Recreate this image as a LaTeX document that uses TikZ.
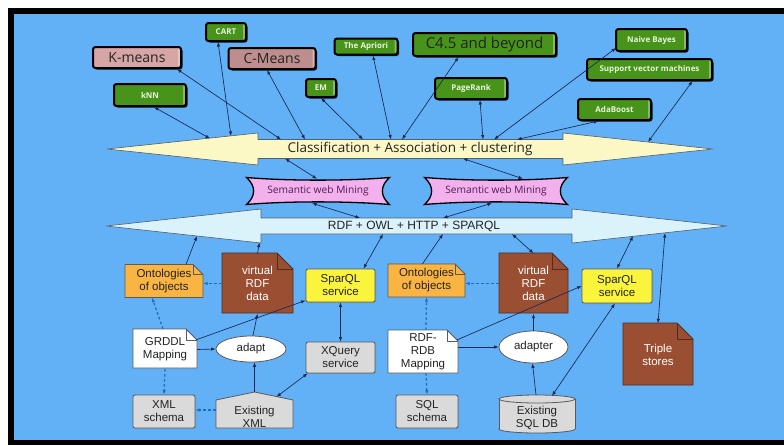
\documentclass[tikz,border=0pt]{standalone}
\usepackage{fontspec}
\setmainfont{Liberation Sans}
\newfontfamily\osans{Open Sans}
\usetikzlibrary{shapes.geometric,shadows,calc,arrows.meta}

\definecolor{bgblue}{RGB}{98,176,245}
\definecolor{algogreen}{RGB}{72,148,26}
\definecolor{algotext}{RGB}{232,244,220}
\definecolor{kpink}{RGB}{214,166,166}
\definecolor{cmauve}{RGB}{190,142,142}
\definecolor{navy}{RGB}{24,40,80}
\definecolor{dashblue}{RGB}{28,110,190}
\definecolor{yarrow}{RGB}{251,248,198}
\definecolor{barrow}{RGB}{218,243,251}
\definecolor{arrowedge}{RGB}{80,95,105}
\definecolor{swmpink}{RGB}{242,176,236}
\definecolor{swmtext}{RGB}{80,30,90}
\definecolor{ontorange}{RGB}{249,180,66}
\definecolor{rdfbrown}{RGB}{155,79,50}
\definecolor{brownedge}{RGB}{80,45,30}
\definecolor{spqyellow}{RGB}{250,244,60}
\definecolor{lgray}{RGB}{218,218,218}
\definecolor{edgegray}{RGB}{90,90,90}
\definecolor{txt}{RGB}{35,35,35}

% document shape with a folded top-right corner:
% centre x, centre y, width, height, fold, fill, edge colour
\newcommand\docshape[7]{%
  \filldraw[fill=#6, draw=#7, line width=0.8pt, line join=round]
    ({#1-#3/2},{#2-#4/2}) -- ({#1+#3/2-#5},{#2-#4/2}) -- ({#1+#3/2},{#2-#4/2+#5})
    -- ({#1+#3/2},{#2+#4/2}) -- ({#1-#3/2},{#2+#4/2}) -- cycle;
  \draw[draw=#7, line width=0.8pt, line join=round]
    ({#1+#3/2-#5},{#2-#4/2}) -- ({#1+#3/2-#5},{#2-#4/2+#5}) -- ({#1+#3/2},{#2-#4/2+#5});
}
% banner with concave edges, 143 x 27
\newcommand\swmbanner[2]{%
  \filldraw[fill=swmpink, draw=black, line width=1.3pt, line join=miter]
    ({#1-71.5},{#2-13.5}) .. controls ({#1-30},{#2-10}) and ({#1+30},{#2-10}) .. ({#1+71.5},{#2-13.5})
    .. controls ({#1+62},{#2-5}) and ({#1+62},{#2+5}) .. ({#1+71.5},{#2+13.5})
    .. controls ({#1+30},{#2+10}) and ({#1-30},{#2+10}) .. ({#1-71.5},{#2+13.5})
    .. controls ({#1-62},{#2+5}) and ({#1-62},{#2-5}) .. ({#1-71.5},{#2-13.5}) -- cycle;
}

\begin{document}
\begin{tikzpicture}[x=1pt,y=-1pt,
  algo/.style={rectangle, rounded corners=2.5pt, draw=black, line width=2pt,
    fill=algogreen, text=algotext, inner sep=0pt,
    font=\osans\bfseries\fontsize{8}{9}\selectfont,
    drop shadow={shadow xshift=1.5pt,shadow yshift=-1.5pt,opacity=.85,fill=black},
    path picture={\fill[white,opacity=.35]
      ([xshift=-3pt]path picture bounding box.north east) rectangle (path picture bounding box.south east);}},
  bigalgo/.style={algo, text=txt, font=\osans\fontsize{15}{17}\selectfont},
  kbox/.style={algo, fill=kpink, text=txt, font=\osans\fontsize{14}{16}\selectfont},
  box/.style={rectangle, rounded corners=2pt, draw=edgegray, line width=0.8pt, text=txt,
    font=\fontsize{11.5}{13}\selectfont, align=center, inner sep=1pt,
    drop shadow={shadow xshift=1pt,shadow yshift=-1pt,opacity=.35}},
  doctext/.style={rectangle, inner sep=1pt, text=txt, align=center,
    font=\fontsize{11.5}{13}\selectfont},
  oval/.style={ellipse, draw=edgegray, line width=0.8pt, fill=white, text=txt,
    font=\fontsize{11.5}{13}\selectfont, inner sep=0pt},
  tip/.tip={Latex[length=4.5pt,width=3.4pt]},
  conn/.style={draw=navy, line width=0.65pt, -tip},
  bconn/.style={draw=navy, line width=0.65pt, tip-tip},
  dconn/.style={draw=dashblue, line width=1.3pt, dash pattern=on 2.5pt off 2.5pt, -tip},
]
\useasboundingbox (0,0) rectangle (784,445);
% frame and background
\fill[white] (0,0) rectangle (784,445);
\fill[black] (8,8) rectangle (784,445);
\fill[bgblue] (14,14) rectangle (784,440);

% two wide double arrows
\filldraw[fill=yarrow, draw=arrowedge, line width=0.6pt, line join=round]
  (107,149) -- (258,133) -- (258,139.5) -- (563,139.5) -- (563,133) -- (713,149)
  -- (563,165) -- (563,158.5) -- (258,158.5) -- (258,165) -- cycle;
\node[font=\osans\fontsize{13.5}{15}\selectfont, text=txt] (cls) at (410,149)
  {Classification + Association + clustering};
\filldraw[fill=barrow, draw=arrowedge, line width=0.6pt, line join=round]
  (106,226) -- (261,209) -- (261,218) -- (572,218) -- (572,209) -- (727,226)
  -- (572,243) -- (572,234) -- (261,234) -- (261,243) -- cycle;
\node[font=\fontsize{12}{14}\selectfont, text=txt] (rdf) at (414,226)
  {RDF + OWL + HTTP + SPARQL};

% semantic web mining banners
\swmbanner{318}{191}
\node[font=\osans\fontsize{10.2}{12}\selectfont, text=swmtext, minimum width=143pt,
  minimum height=27pt, inner sep=0pt] (swmL) at (318,191) {Semantic web Mining};
\swmbanner{496}{191}
\node[font=\osans\fontsize{10.2}{12}\selectfont, text=swmtext, minimum width=143pt,
  minimum height=27pt, inner sep=0pt] (swmR) at (496,191) {Semantic web Mining};

% algorithm boxes
\node[algo, minimum width=40pt, minimum height=18pt] (cart) at (226,32) {CART};
\node[kbox, minimum width=88pt, minimum height=21pt] (kmeans) at (137,57.5) {K-means};
\node[kbox, fill=cmauve, minimum width=87pt, minimum height=21pt] (cmeans) at (272,58.5) {C-Means};
\node[algo, minimum width=72pt, minimum height=22pt] (knn) at (150,95) {kNN\hspace{24pt}};
\node[algo, minimum width=30pt, minimum height=18pt] (em) at (321,88) {EM};
\node[algo, minimum width=63pt, minimum height=16pt] (apriori) at (366,46.5) {The Apriori};
\node[bigalgo, minimum width=143pt, minimum height=23pt] (c45) at (484.5,44.5) {C4.5 and beyond};
\node[algo, minimum width=72pt, minimum height=21pt] (pagerank) at (471,88.5) {PageRank};
\node[algo, minimum width=71pt, minimum height=22pt] (bayes) at (651.5,40) {Naive Bayes};
\node[algo, minimum width=125pt, minimum height=21pt] (svm) at (649.5,69.5) {Support vector machines};
\node[algo, minimum width=73pt, minimum height=21pt] (ada) at (614.5,109.5) {AdaBoost};

% points on the wide arrows
\coordinate (yknn) at (210,138.5);
\coordinate (ycart) at (231,136);
\coordinate (ykm) at (281,139.5);
\coordinate (ycm) at (305,139.5);
\coordinate (yem) at (363,139.5);
\coordinate (yap) at (391,139.5);
\coordinate (yc45) at (402,139.5);
\coordinate (ypr) at (483,139.5);
\coordinate (ynb) at (494,139.5);
\coordinate (yada) at (517,139.5);
\coordinate (ysvm) at (648,142);
\coordinate (ysl) at (285,158.5);
\coordinate (ysr) at (463,158.5);
\coordinate (bsl) at (360,218);
\coordinate (bsr) at (443,218);
\coordinate (bont1) at (197,236);
\coordinate (bvr1) at (259.5,242.5);
\coordinate (bsp1) at (383,234);
\coordinate (bont2) at (443,234);
\coordinate (bvr2) at (512,234);
\coordinate (bsp2) at (633,236);
\coordinate (btr) at (665,233);

% left column of data sources
\docshape{164}{281}{78}{33}{10}{ontorange}{edgegray}
\node[doctext, minimum width=78pt, minimum height=33pt] (ontL) at (164,281) {Ontologies\\of objects};
\docshape{257.5}{283}{71}{60}{16}{rdfbrown}{brownedge}
\node[doctext, text=white, minimum width=71pt, minimum height=60pt] (vrdfL) at (257.5,283.5) {virtual\\RDF\\data};
\node[box, fill=spqyellow, minimum width=69pt, minimum height=33pt] (spqL) at (340.5,285.5) {SparQL\\service};
\docshape{165}{348.5}{64}{39}{11}{white}{edgegray}
\node[doctext, minimum width=64pt, minimum height=39pt] (grddl) at (165,349.5) {GRDDL\\Mapping};
\node[oval, minimum width=70pt, minimum height=26pt] (adapt) at (251,349) {adapt};
\node[box, fill=lgray, minimum width=69pt, minimum height=31pt] (xquery) at (340.5,357.5) {XQuery\\service};
\node[box, fill=lgray, minimum width=62pt, minimum height=33pt] (xmls) at (164,411.5) {XML\\schema};
\filldraw[fill=lgray, draw=edgegray, line width=0.8pt, line join=round]
  (216,428) -- (216,400) -- (254.5,392) -- (293,400) -- (293,428) -- cycle;
\node[rectangle, inner sep=0pt, minimum width=77pt, minimum height=36pt] (exml) at (254.5,410) {};
\node[doctext] (exmltxt) at (254.5,416.5) {Existing\\XML};

% right column of data sources
\docshape{426.5}{280.5}{77}{33}{10}{ontorange}{edgegray}
\node[doctext, minimum width=77pt, minimum height=33pt] (ontR) at (426.5,280.5) {Ontologies\\of objects};
\docshape{533.5}{283}{69}{60}{16}{rdfbrown}{brownedge}
\node[doctext, text=white, minimum width=69pt, minimum height=60pt] (vrdfR) at (533.5,283.5) {virtual\\RDF\\data};
\node[box, fill=spqyellow, minimum width=70pt, minimum height=34pt] (spqR) at (617,286) {SparQL\\service};
\docshape{423}{351.5}{70}{43}{11}{white}{edgegray}
\node[doctext, minimum width=70pt, minimum height=43pt] (rdb) at (423,351.5) {RDF-\\RDB\\Mapping};
\node[oval, minimum width=69pt, minimum height=32pt] (adapter) at (533.5,347) {adapter};
\node[box, fill=lgray, minimum width=62pt, minimum height=33pt] (sqls) at (427,411.5) {SQL\\schema};
% database cylinder
\filldraw[fill=lgray, draw=edgegray, line width=0.8pt] (537,429) ellipse [x radius=38, y radius=4];
\fill[lgray] (499,399) rectangle (575,429);
\draw[edgegray, line width=0.8pt] (499,399) -- (499,429) (575,399) -- (575,429);
\filldraw[fill=lgray, draw=edgegray, line width=0.8pt] (537,399) ellipse [x radius=38, y radius=4];
\node[rectangle, inner sep=0pt, minimum width=76pt, minimum height=38pt] (sqldb) at (537,414) {};
\node[doctext] (sqldbtxt) at (537,417.5) {Existing\\SQL DB};
\docshape{658}{354}{70}{62}{16}{rdfbrown}{brownedge}
\node[doctext, text=white, minimum width=70pt, minimum height=62pt] (triple) at (658,354.5) {Triple\\stores};

% algorithms to the classification arrow
\draw[bconn] ($(knn.south)+(4,0)$) -- (yknn);
\draw[bconn] ($(cart.south)+(-8,0)$) -- (ycart);
\draw[bconn] ($(kmeans.south east)+(-5,0)$) -- (ykm);
\draw[bconn] ($(cmeans.south)+(-5,0)$) -- (ycm);
\draw[bconn] (em.south) -- (yem);
\draw[bconn] ($(apriori.south)+(7,0)$) -- (yap);
\draw[bconn] ($(c45.south)+(-26,0)$) -- (yc45);
\draw[bconn] ($(pagerank.south)+(9,0)$) -- (ypr);
\draw[bconn] ($(bayes.south west)+(1,-4)$) -- (ynb);
\draw[bconn] ($(ada.south)+(-16,0)$) -- (yada);
\draw[bconn] ($(svm.south)+(43,0)$) -- (ysvm);

% mining banners between the two arrows
\draw[bconn] (ysl) -- ($(swmL.north)+(-1,1.5)$);
\draw[bconn] (ysr) -- ($(swmR.north)+(27,1.5)$);
\draw[bconn] ($(swmL.south)+(-6,-1.5)$) -- (bsl);
\draw[bconn] ($(swmR.south)+(-4,-1.5)$) -- (bsr);

% data sources up to the web stack arrow
\draw[conn] ($(ontL.north)+(22,0)$) -- (bont1);
\draw[conn] (vrdfL.north) -- (bvr1);
\draw[bconn] ($(spqL.north)+(23,0)$) -- (bsp1);
\draw[conn] ($(ontR.north)+(-4,0)$) -- (bont2);
\draw[bconn] (vrdfR.north) -- (bvr2);
\draw[bconn] (spqR.north) -- (bsp2);
\draw[bconn] (triple.north) -- (btr);

% left column links
\draw[dconn] (vrdfL.west) -- (vrdfL.west -| ontL.east);
\draw[dconn] ($(grddl.north)+(-2,-1)$) -- ($(ontL.south)+(-12,0)$);
\draw[dconn] (grddl.south) -- (xmls.north);
\draw[dconn] (exml.west) -- (exml.west -| xmls.east);
\draw[conn] (grddl.east) -- (adapt.west);
\draw[conn] ($(grddl.north east)+(-1,10)$) -- ($(spqL.south west)+(0,-2)$);
\draw[conn] ($(adapt.north)+(2,0)$) -- (vrdfL.south);
\draw[conn] (exml.north) -- (exml.north |- adapt.south);
\draw[bconn] ($(exml.north)+(22,5)$) -- ($(xquery.south west)+(2,0)$);
\draw[bconn] (spqL.south) -- (xquery.north);

% right column links
\draw[dconn] (vrdfR.west) -- (vrdfR.west -| ontR.east);
\draw[dconn] ($(rdb.north)+(3,0)$) -- (ontR.south);
\draw[dconn] ($(rdb.south)+(3,0)$) -- (sqls.north);
\draw[conn] (rdb.east |- adapter.west) -- (adapter.west);
\draw[conn] ($(rdb.north east)+(-1,10)$) -- (spqR.west);
\draw[conn] (adapter.north) -- (vrdfR.south);
\draw[conn] ($(sqldb.north)+(-1,0)$) -- ($(adapter.south)+(-1,0)$);
\draw[bconn] ($(sqldb.north)+(15,1)$) -- ($(spqR.south)+(-2,0)$);
\end{tikzpicture}
\end{document}
